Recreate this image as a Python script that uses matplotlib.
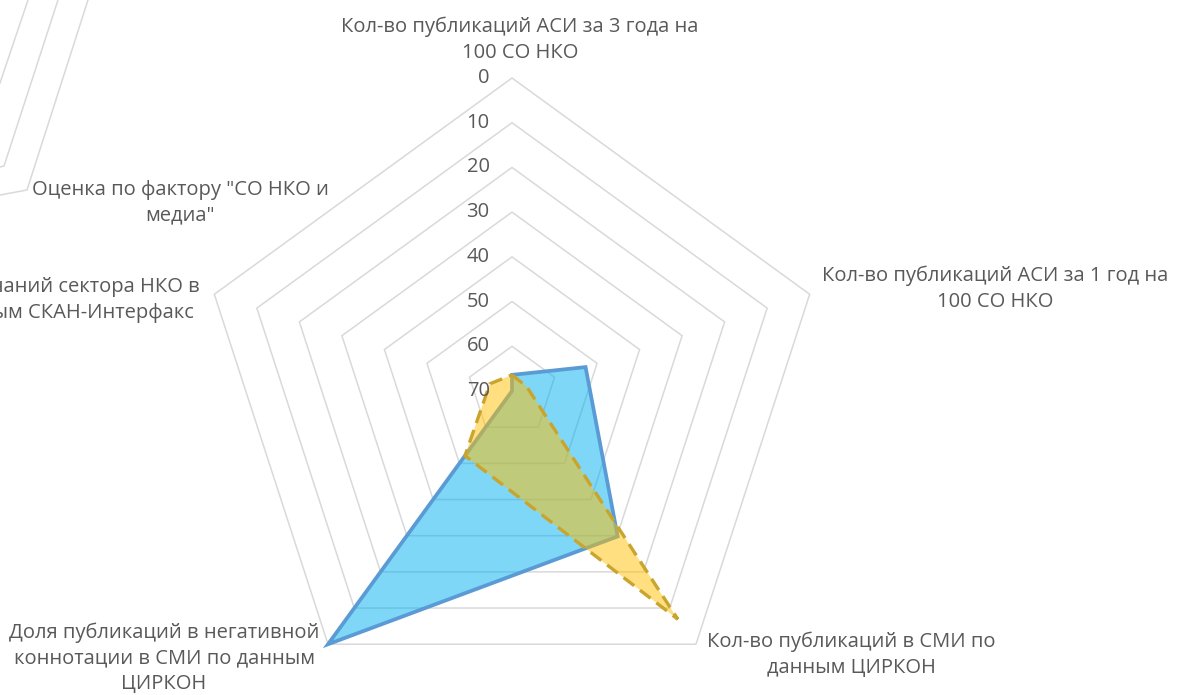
import numpy as np
import matplotlib.pyplot as plt
from matplotlib.lines import Line2D

# categories clockwise from the top axis
categories = [
    "Кол-во публикаций АСИ за 3 года на\n100 СО НКО",
    "Кол-во публикаций АСИ за 1 год на\n100 СО НКО",
    "Кол-во публикаций в СМИ по\nданным ЦИРКОН",
    "Доля публикаций в негативной\nконнотации в СМИ по данным\nЦИРКОН",
    "Кол-во упоминаний сектора НКО в\nСМИ по данным СКАН-Интерфакс",
]
series_blue = [66.4, 52.7, 29.8, 0.0, 70.0]
series_yellow = [66.4, 66.6, 6.9, 52.1, 64.8]
tick_values = [0, 10, 20, 30, 40, 50, 60, 70]
title = 'Оценка по фактору "СО НКО и\nмедиа"'

W, H = 1177, 695
AXIS_MAX = 70  # axis is reversed: 0 on the outer ring, 70 in the centre
TXT = "#595959"
GRID = "#D9D9D9"
FONT = "Open Sans"
FS = 14.5


def px(x, y):
    return x / W, 1 - y / H


def to_xy(values):
    n = len(values)
    ang = np.deg2rad(90 - 360 / n * np.arange(n))
    r = AXIS_MAX - np.asarray(values, dtype=float)
    return r * np.cos(ang), r * np.sin(ang)


fig = plt.figure(figsize=(W / 100, H / 100), dpi=100)
ax = fig.add_axes([0, 0, 1, 1])
scale = 313 / AXIS_MAX  # pixels per unit
cx, cy = 512, 391
ax.set_xlim(-cx / scale, (W - cx) / scale)
ax.set_ylim(-(H - cy) / scale, cy / scale)
ax.axis("off")

# pentagon gridlines
n = len(categories)
for t in tick_values[:-1]:
    gx, gy = to_xy([t] * n)
    ax.fill(gx, gy, facecolor="none", edgecolor=GRID, lw=1.1, zorder=1)

# tick labels along the top axis
for t in tick_values:
    ax.text(-5.0, AXIS_MAX - t, str(t), ha="right", va="center",
            fontsize=FS, color=TXT, family=FONT, zorder=5)

# series
bx, by = to_xy(series_blue)
ax.fill(bx, by, facecolor="#00B0F0", alpha=0.5, zorder=2)
ax.fill(bx, by, facecolor="none", edgecolor="#5B9BD5", lw=2.7,
        joinstyle="miter", zorder=3)

yx, yy = to_xy(series_yellow)
ax.fill(yx, yy, facecolor="#FFC000", alpha=0.5, zorder=4)
ax.fill(yx, yy, facecolor="none", edgecolor="#C9A52E", lw=2.4,
        linestyle=(0, (4, 2.2)), joinstyle="miter", zorder=4)

# category labels
label_pos = [(520, 40), (995, 289), (851, 655), (164, 658), (28, 300)]
for lab, (x, y) in zip(categories, label_pos):
    fig.text(*px(x, y), lab, ha="center", va="center", multialignment="center",
             fontsize=FS, color=TXT, family=FONT, linespacing=1.38)

fig.text(*px(180, 203), title, ha="center", va="center", multialignment="center",
         fontsize=FS, color=TXT, family=FONT, linespacing=1.38)

# leftover frame lines in the top-left corner
corner_lines = [
    [(28, 0), (0, 83)],
    [(58, 0), (4, 166), (0, 167)],
    [(88, 0), (27, 190), (0, 195)],
]
for pts in corner_lines:
    xs, ys = zip(*[px(x, y) for x, y in pts])
    fig.add_artist(Line2D(xs, ys, color=GRID, lw=1.1, transform=fig.transFigure))

fig.savefig("out.png", dpi=100)
